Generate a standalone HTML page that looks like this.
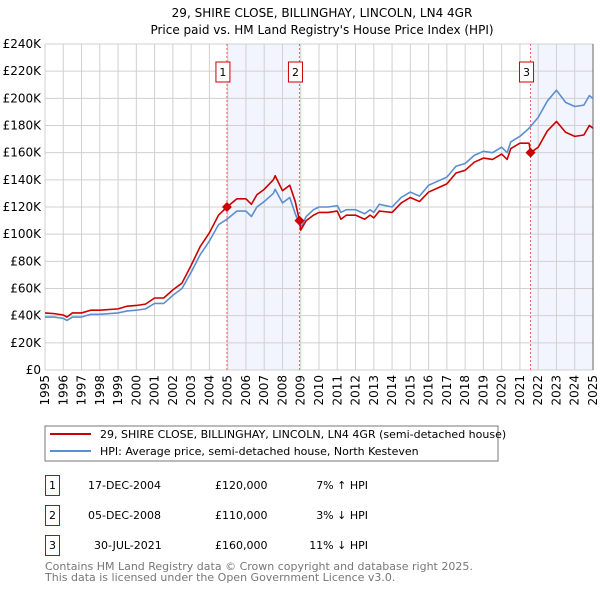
<!DOCTYPE html>
<html><head><meta charset="utf-8"><style>
body{margin:0;background:#fff;width:600px;height:590px;overflow:hidden}
svg{font-family:"DejaVu Sans","Liberation Sans",sans-serif}
</style></head><body>
<svg id="chart" width="600" height="590" xmlns="http://www.w3.org/2000/svg">
<text x="322" y="17" text-anchor="middle" font-size="12">29, SHIRE CLOSE, BILLINGHAY, LINCOLN, LN4 4GR</text>
<text x="322" y="34" text-anchor="middle" font-size="12">Price paid vs. HM Land Registry's House Price Index (HPI)</text>
<g id="plot"></g>
<rect x="45" y="426" width="453" height="35" fill="#fff" stroke="#777"/>
<line x1="50" y1="434" x2="91" y2="434" stroke="#cc0000" stroke-width="2"/>
<text x="100" y="438" font-size="11">29, SHIRE CLOSE, BILLINGHAY, LINCOLN, LN4 4GR (semi-detached house)</text>
<line x1="50" y1="451" x2="91" y2="451" stroke="#5b8fd0" stroke-width="2"/>
<text x="100" y="455" font-size="11">HPI: Average price, semi-detached house, North Kesteven</text>
<g font-size="11">
<rect x="45.5" y="475.5" width="14" height="20" fill="none" stroke="#cc0000"/>
<text x="52.5" y="489" text-anchor="middle">1</text>
<text x="88" y="489">17-DEC-2004</text><text x="215" y="489">£120,000</text><text x="368" y="489" text-anchor="end">7% ↑ HPI</text>
<rect x="45.5" y="505.5" width="14" height="20" fill="none" stroke="#cc0000"/>
<text x="52.5" y="519" text-anchor="middle">2</text>
<text x="88" y="519">05-DEC-2008</text><text x="215" y="519">£110,000</text><text x="368" y="519" text-anchor="end">3% ↓ HPI</text>
<rect x="45.5" y="535.5" width="14" height="20" fill="none" stroke="#cc0000"/>
<text x="52.5" y="549" text-anchor="middle">3</text>
<text x="94" y="549">30-JUL-2021</text><text x="215" y="549">£160,000</text><text x="368" y="549" text-anchor="end">11% ↓ HPI</text>
</g>
<text x="45" y="570" font-size="11" fill="#777">Contains HM Land Registry data © Crown copyright and database right 2025.</text>
<text x="45" y="581" font-size="11" fill="#777">This data is licensed under the Open Government Licence v3.0.</text>
</svg>
<script>
const yTicks=[0,20,40,60,80,100,120,140,160,180,200,220,240];
const years=[1995,1996,1997,1998,1999,2000,2001,2002,2003,2004,2005,2006,2007,2008,2009,2010,2011,2012,2013,2014,2015,2016,2017,2018,2019,2020,2021,2022,2023,2024,2025];
const hpiT=[1995,1995.5,1996,1996.2,1996.5,1997,1997.5,1998,1999,1999.5,2000,2000.5,2001,2001.5,2002,2002.5,2003,2003.5,2004,2004.5,2004.96,2005.5,2006,2006.3,2006.6,2007,2007.5,2007.6,2008,2008.4,2008.7,2009,2009.3,2009.7,2010,2010.5,2011,2011.2,2011.5,2012,2012.5,2012.8,2013,2013.3,2014,2014.5,2015,2015.5,2016,2016.5,2017,2017.5,2018,2018.5,2019,2019.5,2020,2020.3,2020.5,2021,2021.5,2022,2022.5,2023,2023.5,2024,2024.5,2024.8,2025];
const hpiV=[39,39,38,36.5,39,39,41,41,42,43.5,44,45,49,49,55,60,72,85,95,107,111,117,117,113,120,124,130,133,123,127,115,105,113,118,120,120,121,116,118,118,115,118,116,122,120,127,131,128,136,139,142,150,152,158,161,160,164,160,168,172,178,186,198,206,197,194,195,202,200];
const redT=[1995,1995.5,1996,1996.2,1996.5,1997,1997.5,1998,1999,1999.5,2000,2000.5,2001,2001.5,2002,2002.5,2003,2003.5,2004,2004.5,2004.96,2005.5,2006,2006.3,2006.6,2007,2007.5,2007.6,2008,2008.4,2008.7,2008.93,2009,2009.3,2009.7,2010,2010.5,2011,2011.2,2011.5,2012,2012.5,2012.8,2013,2013.3,2014,2014.5,2015,2015.5,2016,2016.5,2017,2017.5,2018,2018.5,2019,2019.5,2020,2020.3,2020.5,2021,2021.5,2021.58,2022,2022.5,2023,2023.5,2024,2024.5,2024.8,2025];
const redV=[42,41.5,40.5,39,42,42,44,44,45,47,47.5,48.5,53,53,59,64,77,91,101,114,120,126,126,122,129,133,140,143,132,136,124,110,103,110,114,116,116,117,111,114,114,111,114,112,117,116,123,127,124,131,134,137,145,147,153,156,155,159,155,163,167,167,160,164,176,183,175,172,173,180,178];
const saleT=[2004.96,2008.93,2021.58];
const saleV=[120,110,160];
const saleLbl=["1","2","3"];
const shadeRanges=[[2004.96,2008.93],[2021.58,2025]];

const X0=45,X1=593,Y0=370,Y1=44;
const sx=t=>X0+(t-1995)/30*(X1-X0);
const sy=v=>Y0-v/240*(Y0-Y1);
const NS="http://www.w3.org/2000/svg";
const g=document.getElementById('plot');
function mk(tag,at){const e=document.createElementNS(NS,tag);for(const k in at)e.setAttribute(k,at[k]);g.appendChild(e);return e;}
shadeRanges.forEach((r,i)=>{
 const e=mk('rect',{x:sx(r[0]),y:Y1,width:sx(r[1])-sx(r[0]),height:Y0-Y1,fill:'#f2f5fd'});
 
 
});
yTicks.forEach(v=>{
 const l=mk('line',{x1:X0,x2:X1,y1:sy(v),y2:sy(v),stroke:'#d0d0d0'});
 
 
 const t=mk('text',{x:X0-4,y:sy(v)+4,'text-anchor':'end','font-size':'12'});
 t.textContent='£'+v+(v?'K':'');
 
 
});
years.forEach(y=>{
 const l=mk('line',{x1:sx(y),x2:sx(y),y1:Y1,y2:Y0,stroke:'#d0d0d0'});
 
 
 const t=mk('text',{x:0,y:0,'text-anchor':'end','font-size':'12',transform:`translate(${sx(y)+4},${Y0+5}) rotate(-90)`});
 t.textContent=y;
 
 
});
const border=mk('line',{x1:X1,x2:X1,y1:Y1,y2:Y0,stroke:'#666'});


saleT.forEach((t,i)=>{
 const l=mk('line',{x1:sx(t),x2:sx(t),y1:Y1,y2:Y0,stroke:'#f06060','stroke-dasharray':'2,2'});
 
 
 const r=mk('rect',{x:sx(t)-11,y:62,width:14,height:20,fill:'#fff',stroke:'#cc0000'});
 
 
 const tx=mk('text',{x:sx(t)-4,y:76,'text-anchor':'middle','font-size':'11'});
 tx.textContent=saleLbl[i];
 
 
});
function line(T,V,c,name){
 const p=mk('polyline',{points:T.map((t,i)=>sx(t)+','+sy(V[i])).join(' '),fill:'none',stroke:c,'stroke-width':'1.6','stroke-linejoin':'round'});
 
 
}
line(hpiT,hpiV,'#5b8fd0','hpi-line');
line(redT,redV,'#cc0000','property-line');
saleT.forEach((t,i)=>{
 const d=mk('path',{d:`M${sx(t)},${sy(saleV[i])-5}l5,5l-5,5l-5,-5z`,fill:'#cc0000'});
 
 
});
</script>
</body></html>
